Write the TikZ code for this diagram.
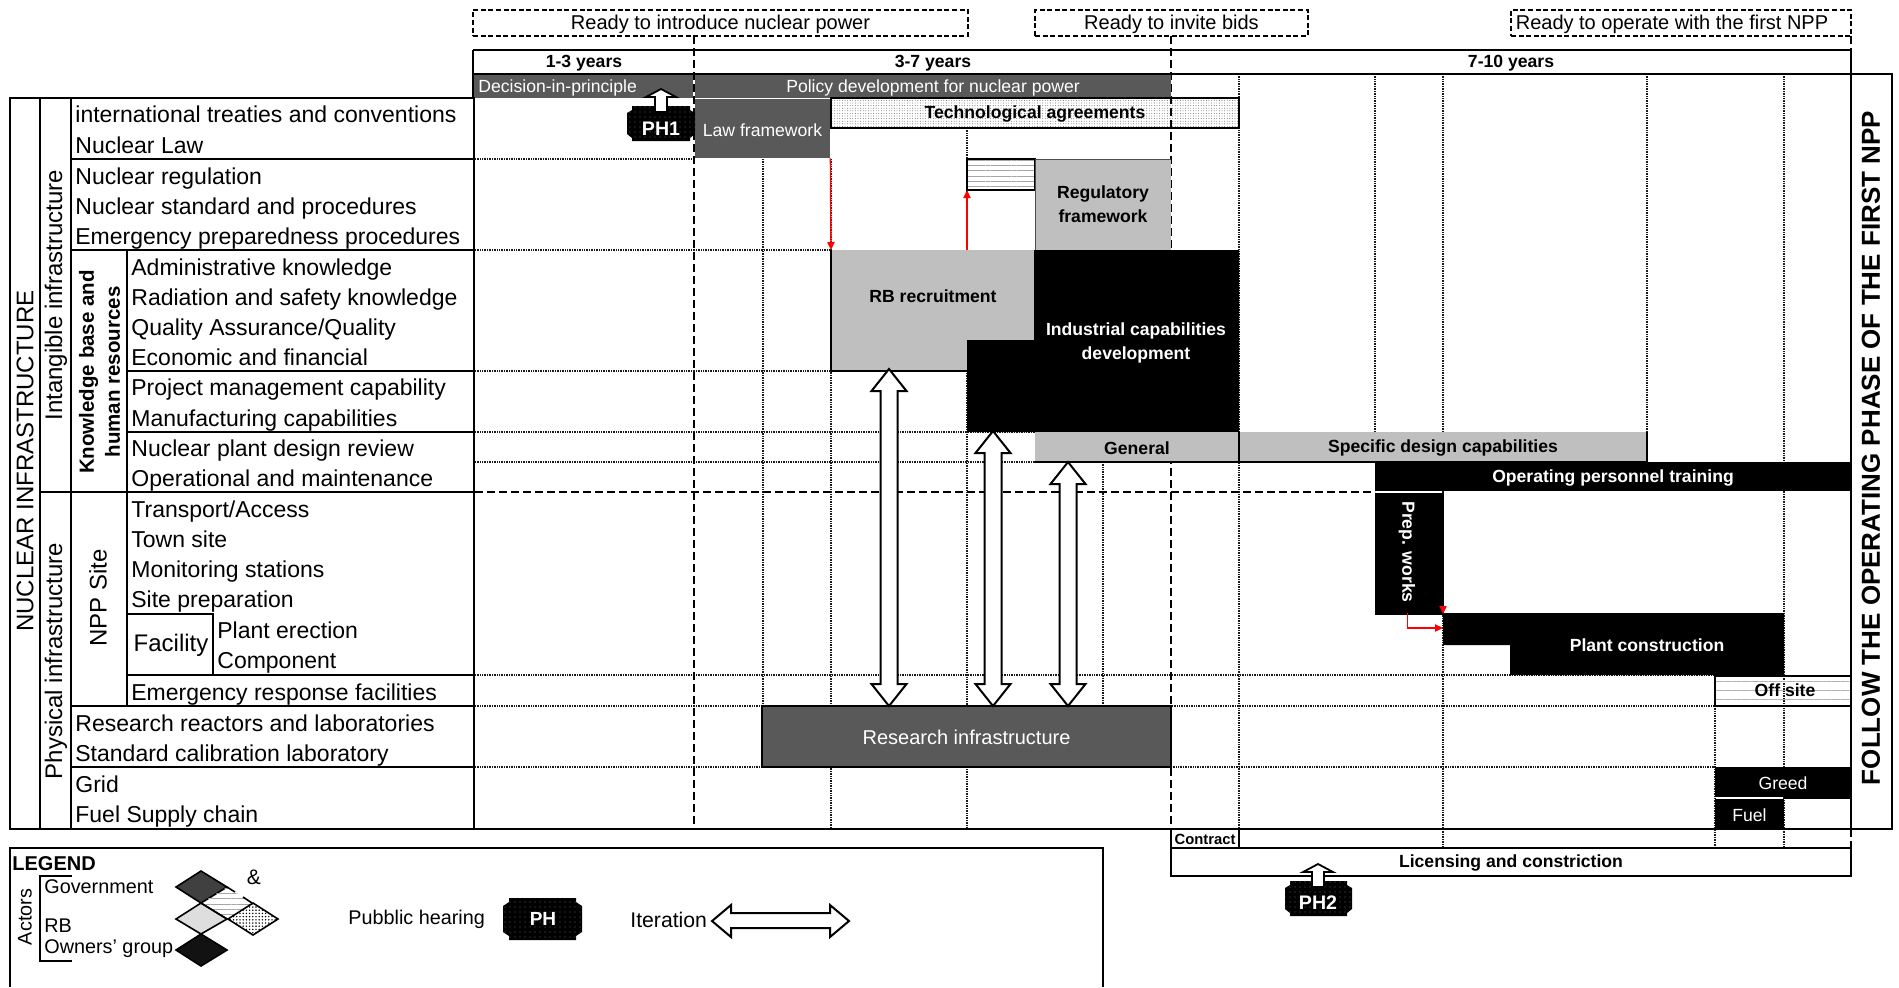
\documentclass[tikz,border=0pt]{standalone}
\usepackage{fontspec}
\setmainfont{Liberation Sans}
\usetikzlibrary{patterns,patterns.meta,arrows.meta}
\definecolor{darkb}{HTML}{595959}
\definecolor{lightb}{HTML}{BFBFBF}
\tikzset{
  fRow/.style={font=\fontsize{11.5}{14}\selectfont},
  fSide/.style={font=\fontsize{12}{14}\selectfont},
  fRdy/.style={font=\fontsize{10}{12}\selectfont},
  fSm/.style={font=\fontsize{8.8}{12}\selectfont},
  fBd/.style={font=\fontsize{8.8}{12}\selectfont\bfseries},
  fFol/.style={font=\fontsize{13}{15}\selectfont\bfseries},
  fLeg/.style={font=\fontsize{9.9}{11}\selectfont},
  txt/.style={inner sep=0pt,align=center},
  rowtxt/.style={fRow,inner sep=0pt,anchor=base west},
  thick line/.style={line width=1.1pt,black},
  thin line/.style={line width=0.6pt,black},
  griddot/.style={line width=0.7pt,black!90,dash pattern=on 0.5pt off 0.35pt},
  griddash/.style={line width=0.8pt,black,dash pattern=on 4.2pt off 1.8pt},
  dashbox/.style={draw=black,line width=0.7pt,dash pattern=on 2.5pt off 1.3pt,fill=white},
  darkbox/.style={fill=darkb,text=white},
  graybox/.style={fill=lightb,text=black},
  blackbox/.style={fill=black,text=white},
  framebox/.style={draw=black,line width=1pt,fill=white},
  techbox/.style={draw=black,line width=1pt,pattern={Dots[radius=0.22pt,distance=1.3pt]},pattern color=black!70},
  linebox/.style={draw=black,line width=1pt,pattern={Lines[angle=0,distance=2.6pt,line width=0.2pt]},pattern color=black!35},
  blockarrow/.style={draw=black,line width=1pt,fill=white,line join=miter},
  redarrow/.style={draw=red,line width=0.7pt,-{Triangle[length=4pt,width=3.6pt]}},
  badgefill/.style={fill=black,postaction={pattern={Dots[radius=0.16pt,distance=2.5pt]},pattern color=white}},
}
% shape only
\newcommand{\bxs}[6]{\node[#6,inner sep=0pt,minimum width={(#4-#2)*0.5pt},minimum height={(#5-#3)*0.5pt}] (#1) at ({(#2+#4)/2},{(#3+#5)/2}) {};}
% shape with its text
\newcommand{\bx}[7]{\bxs{#1}{#2}{#3}{#4}{#5}{#6}\node[#6,draw=none,fill=none,inner sep=0pt,align=center] (#1t) at ({(#2+#4)/2},{(#3+#5)/2+1.2}) {#7};}
\newcommand{\tx}[5]{\node[txt,#4] (#1) at (#2,#3) {#5};}
\newcommand{\rw}[4]{\node[rowtxt] (#1) at (#2,#3) {#4};}
\newcommand{\blockV}[3]{\draw[blockarrow] (#1,#2) -- (#1+17.5,#2+22) -- (#1+8.5,#2+22) -- (#1+8.5,#3-22) -- (#1+17.5,#3-22) -- (#1,#3) -- (#1-17.5,#3-22) -- (#1-8.5,#3-22) -- (#1-8.5,#2+22) -- (#1-17.5,#2+22) -- cycle;}
\newcommand{\upblock}[3]{\draw[blockarrow,line width=0.9pt] (#1,#2) -- (#1+15,#2+8) -- (#1+6,#2+8) -- (#1+6,#3) -- (#1-6,#3) -- (#1-6,#2+8) -- (#1-15,#2+8) -- cycle;}
\begin{document}
\begin{tikzpicture}[x=0.5pt,y=-0.5pt]
\useasboundingbox (0,0) rectangle (1899,987);
\fill[white] (0,0) rectangle (1899,987);

% ---- grid
\foreach \x/\a/\b in {763/159/706,831/159/829,967/128/829,1103/462/706,1239/74/848,1375/74/462,1443/74/848,1647/74/462,1784/74/848,1715/706/848}
  \draw[griddot] (\x,\a) -- (\x,\b);
\foreach \y/\a/\b in {159/475/694,250/475/831,371/475/831,432/475/1035,462/475/1035,675/475/1715,706/475/1715,767/475/762,767/1171/1715}
  \draw[griddot] (\a,\y) -- (\b,\y);
\draw[griddash] (475,492) -- (1375,492);
\draw[griddash] (694,36) -- (694,829);
\draw[griddash] (1171,36) -- (1171,829);
\draw[griddash] (1851,829) -- (1851,848);
\draw[griddash] (1851,36) -- (1851,50);

% ---- top dashed boxes
\bx{rdyA}{473}{10}{968}{36}{dashbox,fRdy}{Ready to introduce nuclear power}
\bx{rdyB}{1035}{10}{1308}{36}{dashbox,fRdy}{Ready to invite bids}
\bxs{rdyC}{1511}{10}{1851}{36}{dashbox,fRdy}
\tx{rdyCt}{1672}{24}{fRdy}{Ready to operate with the first NPP}

% ---- header
\draw[thick line] (473,50) -- (1851,50) (473,74) -- (1851,74) (473,50) -- (473,98) (1851,50) -- (1851,74);
\tx{yrA}{584}{63}{fBd}{1-3 years}
\tx{yrB}{933}{63}{fBd}{3-7 years}
\tx{yrC}{1511}{63}{fBd}{7-10 years}
\bxs{dip}{474}{75}{693}{98}{darkbox}
\node[txt,fSm,text=white,anchor=west] (dipt) at (478,88) {Decision-in-principle};
\bx{pol}{695}{75}{1171}{98}{darkbox,fSm}{Policy development for nuclear power}

% ---- boxes
\bx{law}{695}{99}{830}{158}{darkbox,fSm}{Law framework}
\bxs{tech}{831}{98}{1239}{128}{techbox}
\tx{techt}{1035}{114}{fBd}{Technological agreements}
\bxs{reghatch}{967}{159}{1035}{190}{linebox}
\bxs{reg}{1035}{159}{1171}{250}{graybox}
\tx{regt}{1103}{204}{fBd}{Regulatory\\framework}
\draw[line width=0.5pt,black!70] (1035,159) -- (1171,159) (1035,159) -- (1035,250);

\fill[lightb] (831,250) -- (1034,250) -- (1034,340) -- (967,340) -- (967,371) -- (831,371) -- cycle;
\draw[thin line] (831,371) -- (967,371) (831,250) -- (831,371);
\fill[black] (1034,250) -- (1239,250) -- (1239,432) -- (967,432) -- (967,340) -- (1034,340) -- cycle;
\tx{rb}{933}{296}{fBd}{RB recruitment}
\tx{ind}{1136}{343}{fBd,text=white}{Industrial capabilities\\development}

\bx{gen}{1035}{432}{1239}{462}{graybox,fBd}{General}
\bx{spec}{1239}{432}{1647}{462}{graybox,fBd}{Specific design capabilities}
\draw[thin line] (1035,462) -- (1647,462) (1239,432) -- (1239,462) (1647,432) -- (1647,462);
\bx{opt}{1375}{462}{1851}{491}{blackbox,fBd}{Operating personnel training}
\bxs{prep}{1375}{493}{1444}{615}{blackbox}
\node[txt,fBd,text=white,rotate=-90] (prept) at (1407,552) {Prep. works};
\fill[black] (1443,613) -- (1784,613) -- (1784,675) -- (1510,675) -- (1510,645) -- (1443,645) -- cycle;
\tx{plant}{1647}{645}{fBd,text=white}{Plant construction}
\bxs{off}{1715}{676}{1851}{706}{draw=black,line width=0.6pt,pattern={Lines[angle=0,distance=4.5pt,line width=0.15pt]},pattern color=black!30}
\tx{offt}{1785}{690}{fBd}{Off site}
\bx{res}{762}{706}{1171}{767}{darkbox,draw=black,line width=1pt,font=\fontsize{10}{12}\selectfont}{Research infrastructure}
\bx{greed}{1715}{767}{1851}{797}{blackbox,fSm}{Greed}
\bx{fuel}{1715}{799}{1784}{829}{blackbox,fSm}{Fuel}
\fill[black] (1784,797) rectangle (1851,798.5);

% ---- lower boxes
\bx{contract}{1171}{829}{1239}{848}{draw=black,line width=1pt,font=\fontsize{7.4}{9}\selectfont\bfseries}{Contract}
\bx{lic}{1171}{848}{1851}{876}{framebox,fBd}{Licensing and constriction}

% ---- red arrows
\coordinate (rB) at (831,250);
\coordinate (rC) at (967,250); \coordinate (rD) at (967,190);
\coordinate (rE) at (1407.5,613); \coordinate (rF) at (1407.5,628); \coordinate (rG) at (1443,628);
\coordinate (rH) at (1443,607); \coordinate (rI) at (1443,614);
\draw[redarrow] (law.south east) -- (rB);
\draw[redarrow] (rC) -- (rD);
\draw[redarrow] (rE) -- (rF) -- (rG);
\draw[redarrow] (rH) -- (rI);

% ---- iteration arrows
\blockV{889}{369}{706}
\blockV{993}{431}{706}
\blockV{1068}{462}{706}

% ---- public hearing badges
\path[badgefill] (632,106) -- (690,106) -- (690,110) -- (695,113) -- (695,134) -- (690,138) -- (690,141) -- (632,141) -- (632,138) -- (627,134) -- (627,113) -- (632,110) -- cycle;
\tx{ph1}{661}{129}{text=white,font=\fontsize{9.8}{12}\selectfont\bfseries}{PH1}
\upblock{661}{89}{112}
\path[badgefill] (1290,881) -- (1347,881) -- (1347,885) -- (1352,888) -- (1352,909) -- (1347,913) -- (1347,916) -- (1290,916) -- (1290,913) -- (1285,909) -- (1285,888) -- (1290,885) -- cycle;
\tx{ph2}{1318}{903}{text=white,font=\fontsize{9.8}{12}\selectfont\bfseries}{PH2}
\upblock{1318}{864}{887}

% ---- left table
\draw[thick line] (10,98) rectangle (474,829);
\draw[thick line] (40,98) -- (40,829) (71,98) -- (71,829) (127,250) -- (127,706);
\draw[thick line] (40,492) -- (474,492) (127,675) -- (474,675) (127,614) -- (213,614) -- (213,675);
\draw[thin line] (71,159) -- (474,159) (71,250) -- (474,250) (127,371) -- (474,371) (127,432) -- (474,432) (71,706) -- (474,706) (71,767) -- (474,767);
\draw[thick line] (474,829) -- (1892,829) -- (1892,74) -- (1851,74) -- (1851,829);

\rw{r1}{75}{122}{international treaties and conventions}
\rw{r2}{75}{153}{Nuclear Law}
\rw{r3}{75}{184}{Nuclear regulation}
\rw{r4}{75}{214.5}{Nuclear standard and procedures}
\rw{r5}{75}{244}{Emergency preparedness procedures}
\rw{r6}{131}{275}{Administrative knowledge}
\rw{r7}{131}{305}{Radiation and safety knowledge}
\rw{r8}{131}{335}{Quality Assurance/Quality}
\rw{r9}{131}{365}{Economic and financial}
\rw{r10}{131}{395}{Project management capability}
\rw{r11}{131}{426}{Manufacturing capabilities}
\rw{r12}{131}{456}{Nuclear plant design review}
\rw{r13}{131}{486}{Operational and maintenance}
\rw{r14}{131}{517}{Transport/Access}
\rw{r15}{131}{547}{Town site}
\rw{r16}{131}{577}{Monitoring stations}
\rw{r17}{131}{607}{Site preparation}
\rw{r18}{217}{638}{Plant erection}
\rw{r19}{217}{668}{Component}
\rw{r20}{131}{700}{Emergency response facilities}
\rw{r21}{75}{731}{Research reactors and laboratories}
\rw{r22}{75}{761}{Standard calibration laboratory}
\rw{r23}{75}{792}{Grid}
\rw{r24}{75}{822}{Fuel Supply chain}
\tx{fac}{171}{645}{fSide}{Facility}
\tx{npp}{98}{598}{fSide,rotate=90}{NPP Site}
\tx{know}{99.5}{372}{rotate=90,font=\fontsize{10.25}{13}\selectfont\bfseries}{Knowledge base and\\human resources}
\tx{intang}{56}{295}{fSide,rotate=90}{Intangible infrastructure}
\tx{phys}{56}{661}{fSide,rotate=90}{Physical infrastructure}
\tx{nucl}{25}{461}{fSide,rotate=90}{NUCLEAR INFRASTRUCTURE}
\tx{foll}{1871}{448}{fFol,rotate=90}{FOLLOW THE OPERATING PHASE OF THE FIRST NPP}

% ---- legend
\draw[thick line] (10,987) -- (10,848) -- (1103,848) -- (1103,987);
\node[txt,font=\fontsize{10}{12}\selectfont\bfseries,anchor=west] (leg) at (12,864) {LEGEND};
\tx{act}{25}{917}{fLeg,rotate=90}{Actors}
\draw[thin line] (72,876) -- (40,876) -- (40,961) -- (72,961);
\node[txt,fLeg,anchor=west] (lg1) at (44,887) {Government};
\node[txt,fLeg,anchor=west] (lg2) at (44,926) {RB};
\node[txt,fLeg,anchor=west] (lg3) at (44,949) {Owners' group};
\draw[black,line width=0.8pt,fill=black!75] (176,887) -- (201,871) -- (227,887) -- (201,903) -- cycle;
\path[pattern={Lines[angle=0,distance=2.6pt,line width=0.2pt]},pattern color=black!35] (201,903) -- (227,887) -- (252,903) -- (227,919) -- cycle;
\draw[black,line width=0.8pt,fill=black!13] (176,919) -- (201,903) -- (227,919) -- (201,934) -- cycle;
\draw[black,line width=0.8pt,pattern={Dots[radius=0.4pt,distance=1.6pt]},pattern color=black] (228,919) -- (253,903) -- (278,919) -- (253,935) -- cycle;
\draw[black,line width=0.8pt,fill=black!93] (176,950) -- (201,934) -- (227,950) -- (201,966) -- cycle;
\draw[black,line width=0.8pt] (227,887) -- (235,892) (243,897) -- (252,903) (201,903) -- (227,919);
\tx{amp}{254}{877}{font=\fontsize{10.5}{12}\selectfont}{\&}
\node[txt,fLeg,anchor=west] (pub) at (348,919) {Pubblic hearing};
\path[badgefill] (509,898) -- (576,898) -- (576,902) -- (582,906) -- (582,932) -- (576,936) -- (576,940) -- (509,940) -- (509,936) -- (503,932) -- (503,906) -- (509,902) -- cycle;
\tx{ph}{543}{919}{text=white,font=\fontsize{9.5}{12}\selectfont\bfseries}{PH}
\node[txt,font=\fontsize{10.6}{12}\selectfont,anchor=west] (iter) at (630,920) {Iteration};
\draw[blockarrow] (712,921) -- (731,905) -- (731,913) -- (830,913) -- (830,905) -- (849,921) -- (830,937) -- (830,928) -- (731,928) -- (731,937) -- cycle;
\end{tikzpicture}
\end{document}
